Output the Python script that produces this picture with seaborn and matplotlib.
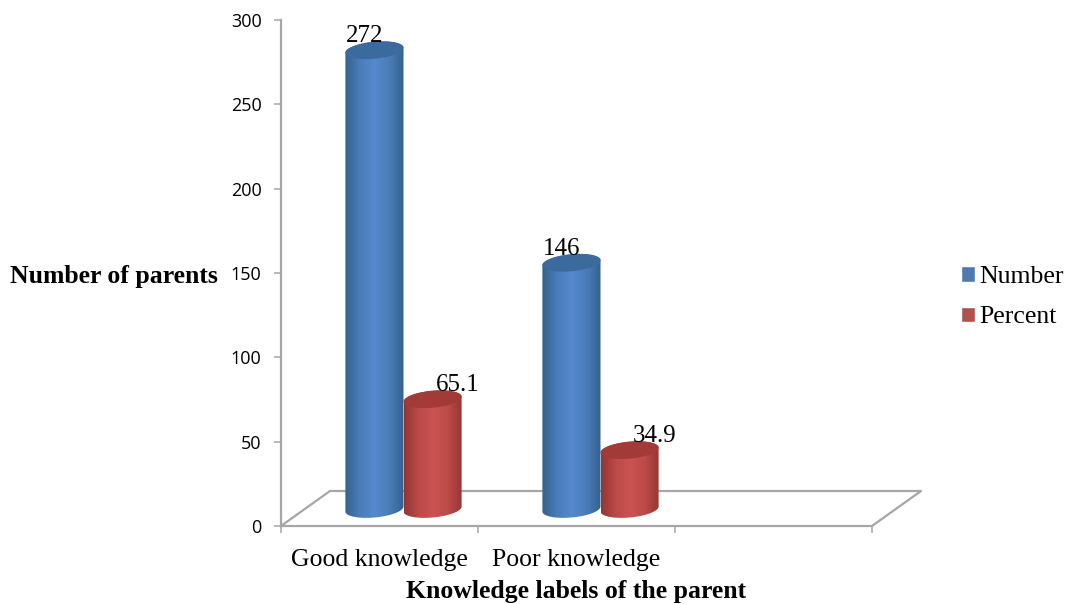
import numpy as np
import pandas as pd
import seaborn as sns
import matplotlib.pyplot as plt
from matplotlib.colors import LinearSegmentedColormap
from matplotlib.patches import Polygon

categories = ["Good knowledge", "Poor knowledge"]
number = [272, 146]
percent = [65.1, 34.9]
series_names = ["Number", "Percent"]
y_ticks = [0, 50, 100, 150, 200, 250, 300]

W, H = 1065, 604
GRID = "#A6A6A6"
FONT_SIZE = 18.5

sns.set_theme(style="white")
plt.rcParams["font.family"] = ["Liberation Serif", "DejaVu Sans"]
plt.rcParams["text.color"] = "black"
plt.rcParams["xtick.labelcolor"] = "black"
plt.rcParams["ytick.labelcolor"] = "black"

df = pd.DataFrame({
    "category": categories * 2,
    "series": [series_names[0]] * 2 + [series_names[1]] * 2,
    "value": number + percent,
})

# pixel box of the front plane of the fake 3d chart
left, right, top, bottom = 281, 872, 20, 526
box = [left / W, 1 - bottom / H, (right - left) / W, (bottom - top) / H]
# the columns stand further back on the floor
shift_x, shift_y = 24, 17

fig = plt.figure(figsize=(W / 100, H / 100), dpi=100)
ax = fig.add_axes(box)
ax.set_xlim(-0.5, 2.5)
ax.set_ylim(0, 300)
ax_bars = fig.add_axes([box[0] + shift_x / W, box[1] + shift_y / H, box[2], box[3]])
ax_bars.patch.set_alpha(0)

sns.barplot(
    data=df, x="category", y="value", hue="series", hue_order=series_names,
    order=categories, palette={"Number": "#4079BE", "Percent": "#C0413F"},
    width=0.59, gap=0, ax=ax_bars,
)
ax_bars.set_xlim(-0.5, 2.5)
ax_bars.set_ylim(0, 300)

# frame, ticks and labels
for name in ["top", "right"]:
    ax.spines[name].set_visible(False)
for name in ["left", "bottom"]:
    ax.spines[name].set_color(GRID)
    ax.spines[name].set_linewidth(1.6)
ax.set_yticks(y_ticks)
ax.set_xticks([-0.5, 0.5, 1.5, 2.5], labels=[])
ax.set_xticks(range(len(categories)), labels=categories, minor=True)
ax.tick_params(axis="both", which="major", length=5, width=1.1, color=GRID, left=True, bottom=True)
ax.tick_params(axis="y", labelsize=13, pad=9)
ax.tick_params(axis="x", which="minor", length=0, labelsize=FONT_SIZE, pad=16.5)
for lab in ax.get_yticklabels():
    lab.set_family("Open Sans")
ax.set_xlabel("Knowledge labels of the parent", fontsize=FONT_SIZE, fontweight="bold", color="black")
ax.xaxis.set_label_coords(0.5, (bottom - 598) / (bottom - top))
ax.xaxis.label.set_va("baseline")
ax.set_ylabel("Number of parents", fontsize=FONT_SIZE, fontweight="bold", color="black",
              rotation=0, ha="right", va="center")
ax.yaxis.set_label_coords((218 - left) / (right - left), (bottom - 277) / (bottom - top))

# floor outline
depth_x, depth_y = 49 / (right - left), 35 / (bottom - top)
ax.plot([0, depth_x, 1 + depth_x, 1], [0, depth_y, depth_y, 0], color=GRID, lw=1.6,
        transform=ax.transAxes, clip_on=False, zorder=1)

# swap the flat bars for shaded cylinders
shades = {
    "Number": (["#35628F", "#4A7DB8", "#5489CE", "#4A7DB8", "#36628F"], "#3A6A9E"),
    "Percent": (["#943634", "#BC4A48", "#CB5452", "#BC4A48", "#943634"], "#A23A37"),
}
label_dx = {"Number": -10, "Percent": 25}
label_dy = {"Number": 14, "Percent": 14}

px_y = 300 / (bottom - top)
cap_h = 8.5 * px_y
tilt = 2.5 * px_y
t = np.linspace(0, 2 * np.pi, 120)

for container, name in zip(ax_bars.containers, series_names):
    cmap = LinearSegmentedColormap.from_list(name, shades[name][0])
    for bar in container:
        cx = bar.get_x() + bar.get_width() / 2
        hw = bar.get_width() / 2
        val = bar.get_height()
        bar.set_visible(False)

        # sheared ellipses for the ends, the body runs between them
        lower = np.linspace(np.pi, 2 * np.pi, 60)
        upper = np.linspace(0, np.pi, 60)
        body_x = np.r_[cx + hw * np.cos(lower), cx + hw * np.cos(upper)]
        body_y = np.r_[-cap_h * np.abs(np.sin(lower)) + tilt * np.cos(lower),
                       val + cap_h * np.sin(upper) + tilt * np.cos(upper)]
        body = Polygon(np.c_[body_x, body_y], closed=True, transform=ax_bars.transData,
                       facecolor="none", edgecolor="none")
        ax_bars.add_patch(body)
        im = ax_bars.imshow(np.linspace(0, 1, 64)[None, :], cmap=cmap, aspect="auto",
                            extent=[cx - hw, cx + hw, -20, val + 20], zorder=3)
        im.set_clip_path(body)
        im.set_clip_box(fig.bbox)

        cap_x = cx + hw * np.cos(t)
        cap_y = val + cap_h * np.sin(t) + tilt * np.cos(t)
        cap = Polygon(np.c_[cap_x, cap_y], closed=True, facecolor=shades[name][1],
                      edgecolor="none", zorder=4, clip_on=False)
        ax_bars.add_patch(cap)

        ax_bars.annotate(f"{val:g}", (cx, val), xytext=(label_dx[name] * 0.72, label_dy[name] * 0.72),
                         textcoords="offset points", ha="center", va="center",
                         fontsize=18, color="black", zorder=5, annotation_clip=False)

ax_bars.set_xlim(-0.5, 2.5)
ax_bars.set_ylim(0, 300)
ax_bars.axis("off")

# legend made by seaborn, moved out to the right
sns.move_legend(
    ax_bars, "upper left", bbox_to_anchor=(961 / W, 1 - 266 / H), bbox_transform=fig.transFigure,
    title=None, frameon=False, fontsize=FONT_SIZE, handlelength=0.55, handleheight=0.55,
    handletextpad=0.15, labelspacing=0.72, borderpad=0, borderaxespad=0, labelcolor="black",
)

fig.savefig("out.png", dpi=100)
